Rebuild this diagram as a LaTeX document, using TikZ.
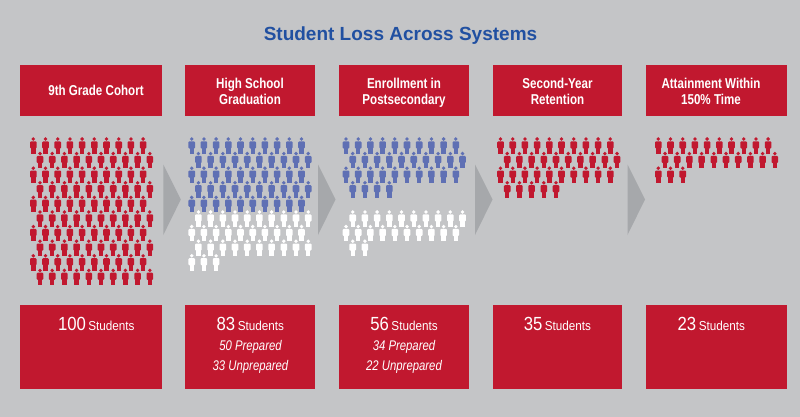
\documentclass[tikz,border=0pt]{standalone}
\usepackage{fontspec}
\setmainfont{Liberation Sans}
\newfontfamily\hdrfont[FakeStretch=0.81]{Liberation Sans}
\newfontfamily\numfont[FakeStretch=0.88]{Liberation Sans}
\newfontfamily\stufont[FakeStretch=0.9]{Liberation Sans}
\newfontfamily\itfont[FakeStretch=0.81]{Liberation Sans}
\definecolor{bggray}{HTML}{C4C5C7}
\definecolor{boxred}{HTML}{C1182F}
\definecolor{pblue}{HTML}{5F70B4}
\definecolor{arrowgray}{HTML}{A6A8AB}
\definecolor{titleblue}{HTML}{2150A1}
\newcommand\onefig[3]{%
  \begin{scope}[shift={(#1,#2)}]
    \fill[#3] (0,0) circle (1.9);
    \fill[#3,rounded corners=1] (-3.3,2.3) rectangle (3.3,9.5);
    \fill[#3] (-2.2,8) rectangle (2.2,14.8);
  \end{scope}}
\newcommand\crowd[4]{% x0, first row, count, colour
  \foreach \kk in {1,...,#3}{%
    \pgfmathtruncatemacro\prow{#2+int((\kk-1)/10)}%
    \pgfmathtruncatemacro\pcol{mod(\kk-1,10)}%
    \pgfmathsetmacro\xx{#1+\pcol*12.2+mod(\prow,2)*6.7}%
    \pgfmathsetmacro\yy{139+\prow*14.6}%
    \onefig{\xx}{\yy}{#4}%
  }}
\begin{document}
\begin{tikzpicture}[x=1pt,y=-1pt,
  headbox/.style={fill=boxred,draw=none,inner sep=0,minimum height=51},
  footbox/.style={fill=boxred,draw=none,inner sep=0,minimum height=84},
  htext/.style={text=white,inner sep=0,anchor=base,font=\hdrfont\bfseries\fontsize{14.3}{17}\selectfont},
  ntext/.style={text=white,inner sep=0,anchor=base},
  itext/.style={text=white,inner sep=0,anchor=base,font=\itfont\itshape\fontsize{14}{17}\selectfont},
  chevron/.style={fill=arrowgray}]
\fill[bggray] (0,0) rectangle (800,417);
\useasboundingbox (0,0) rectangle (800,417);

\node[text=titleblue,inner sep=0,anchor=base,font=\bfseries\fontsize{19}{22}\selectfont] (title) at (400.5,40.7) {Student Loss Across Systems};

% header boxes
\node[headbox,minimum width=142] (h1) at (91,90.5) {};
\node[headbox,minimum width=130] (h2) at (250,90.5) {};
\node[headbox,minimum width=130] (h3) at (404,90.5) {};
\node[headbox,minimum width=129] (h4) at (557.5,90.5) {};
\node[headbox,minimum width=141] (h5) at (716.5,90.5) {};

\node[htext] (h1a) at (96,95.7) {9th Grade Cohort};
\node[htext] (h2a) at (250,88.5) {High School};
\node[htext] (h2b) at (250,105) {Graduation};
\node[htext] (h3a) at (404,88.5) {Enrollment in};
\node[htext] (h3b) at (404,105) {Postsecondary};
\node[htext] (h4a) at (557.5,88.5) {Second-Year};
\node[htext] (h4b) at (557.5,105) {Retention};
\node[htext] (h5a) at (711,88.5) {Attainment Within};
\node[htext] (h5b) at (711,105) {150\% Time};

% chevrons
\fill[chevron] (163.3,164.5) -- (180.8,199.5) -- (163.3,235) -- cycle;
\fill[chevron] (318,164.5) -- (335.5,199.5) -- (318,235) -- cycle;
\fill[chevron] (475,164.5) -- (492.5,199.5) -- (475,235) -- cycle;
\fill[chevron] (627.5,164.5) -- (645,199.5) -- (627.5,235) -- cycle;

% people
\crowd{33.3}{0}{100}{boxred}
\crowd{191.7}{0}{50}{pblue}
\crowd{191.7}{5}{33}{white}
\crowd{346}{0}{34}{pblue}
\crowd{346}{5}{22}{white}
\crowd{500.5}{0}{35}{boxred}
\crowd{658.3}{0}{23}{boxred}

% footer boxes
\node[footbox,minimum width=142] (b1) at (91,347) {};
\node[footbox,minimum width=130] (b2) at (250,347) {};
\node[footbox,minimum width=130] (b3) at (404,347) {};
\node[footbox,minimum width=129] (b4) at (557.5,347) {};
\node[footbox,minimum width=141] (b5) at (716.5,347) {};

\newcommand\stud[1]{{\numfont\fontsize{19}{19}\selectfont #1}\hspace{2.5pt}{\stufont\fontsize{13}{13}\selectfont Students}}
\node[ntext] (n1) at (96.3,330) {\stud{100}};
\node[ntext] (n2) at (250.3,330) {\stud{83}};
\node[itext] (p2) at (250.5,350) {50 Prepared};
\node[itext] (u2) at (250.5,370) {33 Unprepared};
\node[ntext] (n3) at (404,330) {\stud{56}};
\node[itext] (p3) at (404,350) {34 Prepared};
\node[itext] (u3) at (404,370) {22 Unprepared};
\node[ntext] (n4) at (557.4,330) {\stud{35}};
\node[ntext] (n5) at (711.3,330) {\stud{23}};
\end{tikzpicture}
\end{document}
